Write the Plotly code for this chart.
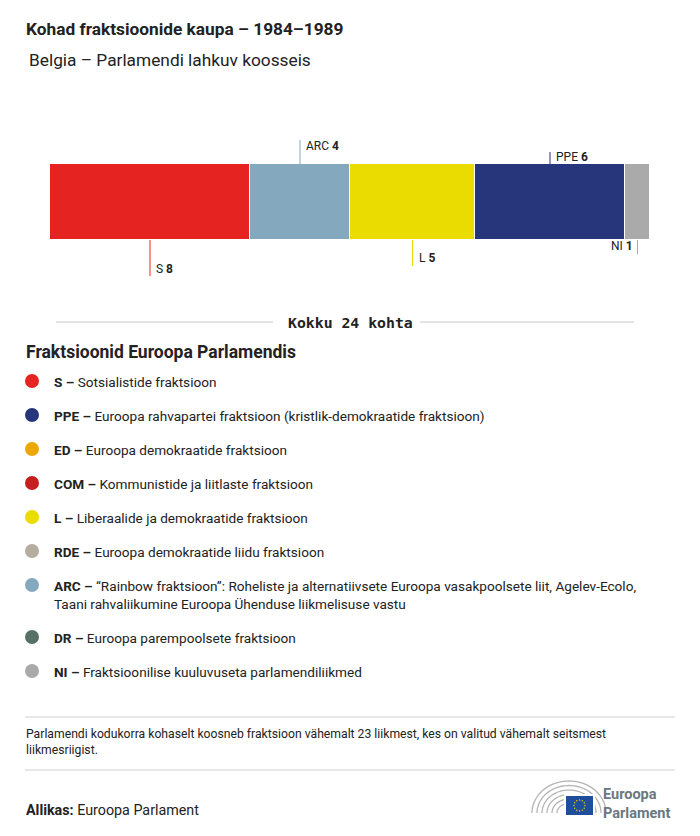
import math
import plotly.graph_objects as go

# page body has an 8px margin: figure is sized to fit the 700x836 window exactly
PAGE_W, PAGE_H, OFF = 700, 836, 8
W, H = PAGE_W - 2 * OFF, PAGE_H - 2 * OFF

# ---------------- data ----------------
groups = ["S", "ARC", "L", "PPE", "NI"]
seats = [8, 4, 5, 6, 1]
group_colors = ["#E52421", "#84A9BE", "#EBDC00", "#27367B", "#AAAAAA"]

legend_codes = ["S", "PPE", "ED", "COM", "L", "RDE", "ARC", "DR", "NI"]
legend_names = [
    "Sotsialistide fraktsioon",
    "Euroopa rahvapartei fraktsioon (kristlik-demokraatide fraktsioon)",
    "Euroopa demokraatide fraktsioon",
    "Kommunistide ja liitlaste fraktsioon",
    "Liberaalide ja demokraatide fraktsioon",
    "Euroopa demokraatide liidu fraktsioon",
    "“Rainbow fraktsioon”: Roheliste ja alternatiivsete Euroopa vasakpoolsete liit, Agelev-Ecolo,<br>Taani rahvaliikumine Euroopa Ühenduse liikmelisuse vastu",
    "Euroopa parempoolsete fraktsioon",
    "Fraktsioonilise kuuluvuseta parlamendiliikmed",
]
legend_colors = ["#E52421", "#27367B", "#EBA800", "#C41E1E", "#EBDC00",
                 "#B5AE9F", "#84A9BE", "#587166", "#AAAAAA"]

title = "Kohad fraktsioonide kaupa – 1984–1989"
subtitle = "Belgia – Parlamendi lahkuv koosseis"
total_label = "Kokku {} kohta".format(sum(seats))
legend_title = "Fraktsioonid Euroopa Parlamendis"
footnote = ("Parlamendi kodukorra kohaselt koosneb fraktsioon vähemalt 23 liikmest, kes on valitud vähemalt seitsmest<br>"
            "liikmesriigist.")
source = "<b>Allikas:</b> Euroopa Parlament"
logo_text = "<b>Euroopa<br>Parlament</b>"

# ---------------- styling / layout helpers ----------------
FONT = "Roboto"
DARK = "#222222"


def px(x):
    return (x - OFF) / W


def py(y):
    return 1 - (y - OFF) / H


# label placement per bar segment: (side, line length, text offset)
label_style = {
    "S": ("below", 36, 29),
    "ARC": ("above", 24, 18),
    "L": ("below", 26, 18),
    "PPE": ("above", 12, 7),
    "NI": ("below", 14, 6),
}

BAR_TOP, BAR_BOT = 164, 240
X0, X1 = 50, 650

fig = go.Figure()
for g, s, c in zip(groups, seats, group_colors):
    fig.add_trace(go.Bar(
        y=["seats"], x=[s], orientation="h", name=g,
        marker=dict(color=c, line=dict(color="white", width=1)),
        width=1, showlegend=False, hoverinfo="x+name",
    ))

total = sum(seats)
shapes = []
annotations = []

# bar labels with leader lines
cum = 0
for g, s, c in zip(groups, seats, group_colors):
    mid = cum + s / 2
    cum += s
    side, length, toff = label_style[g]
    if side == "below":
        y0p, y1p = BAR_BOT, BAR_BOT + length
        ty = BAR_BOT + toff
    else:
        y0p, y1p = BAR_TOP - length, BAR_TOP
        ty = BAR_TOP - toff
    shapes.append(dict(type="line", xref="x", yref="paper", x0=mid, x1=mid,
                       y0=py(y0p), y1=py(y1p), line=dict(color=c, width=1)))
    right = (g == groups[-1])
    annotations.append(dict(
        xref="x", yref="paper", x=mid, y=py(ty),
        text="{} <b>{}</b>".format(g, s), showarrow=False,
        xanchor="right" if right else "left", yanchor="middle",
        xshift=-3 if right else 4,
        font=dict(family=FONT, size=12, color=DARK),
    ))

# title / subtitle
annotations.append(dict(xref="paper", yref="paper", x=px(24), y=py(29), text="<b>" + title + "</b>",
                        showarrow=False, xanchor="left", yanchor="middle",
                        font=dict(family=FONT, size=17.3, color=DARK)))
annotations.append(dict(xref="paper", yref="paper", x=px(27), y=py(60), text=subtitle,
                        showarrow=False, xanchor="left", yanchor="middle",
                        font=dict(family=FONT, size=17.3, color=DARK)))

# total line
annotations.append(dict(xref="paper", yref="paper", x=px(350), y=py(322), text="<b>" + total_label + "</b>",
                        showarrow=False, xanchor="center", yanchor="middle",
                        font=dict(family="DejaVu Sans Mono", size=14.8, color=DARK)))
for a, b in [(56, 273), (420, 634)]:
    shapes.append(dict(type="line", xref="paper", yref="paper", x0=px(a), x1=px(b),
                       y0=py(322), y1=py(322), line=dict(color="#C8C8C8", width=1)))

# legend
annotations.append(dict(xref="paper", yref="paper", x=px(24), y=py(352), text="<b>" + legend_title + "</b>",
                        showarrow=False, xanchor="left", yanchor="middle",
                        font=dict(family=FONT, size=17.5, color=DARK)))
ly = 381
for code, name, col in zip(legend_codes, legend_names, legend_colors):
    r = 7
    shapes.append(dict(type="circle", xref="paper", yref="paper",
                       x0=px(32 - r), x1=px(32 + r), y0=py(ly + r), y1=py(ly - r),
                       fillcolor=col, line=dict(width=0)))
    nlines = name.count("<br>") + 1
    annotations.append(dict(xref="paper", yref="paper", x=px(52), y=py(ly - 9), text="<b>" + code + " –</b> " + name,
                            showarrow=False, xanchor="left", yanchor="top", align="left",
                            font=dict(family=FONT, size=13.6, color=DARK)))
    ly += 34 + (nlines - 1) * 18

# footnote
for yy in (717, 770):
    shapes.append(dict(type="line", xref="paper", yref="paper", x0=px(25), x1=px(675),
                       y0=py(yy), y1=py(yy), line=dict(color="#D0D0D0", width=1)))
annotations.append(dict(xref="paper", yref="paper", x=px(24), y=py(742), text=footnote,
                        showarrow=False, xanchor="left", yanchor="middle", align="left",
                        font=dict(family=FONT, size=12.2, color=DARK)))
annotations.append(dict(xref="paper", yref="paper", x=px(24), y=py(810), text=source,
                        showarrow=False, xanchor="left", yanchor="middle",
                        font=dict(family=FONT, size=14.3, color=DARK)))

# logo (hemicycle arcs + flag + wordmark)
cx, cy = 569, 813
for rx, ry in [(37, 32), (32, 27.5), (27, 23), (22, 18.5), (17, 14), (12, 9.5)]:
    pts = []
    for k in range(0, 41):
        ang = math.pi * k / 40
        pts.append((cx - rx * math.cos(ang), cy - ry * math.sin(ang)))
    path = "M " + " L ".join("{:.4f},{:.4f}".format(px(x), py(y)) for x, y in pts)
    shapes.append(dict(type="path", xref="paper", yref="paper", path=path,
                       line=dict(color="#B5B5B5", width=1.3)))
shapes.append(dict(type="rect", xref="paper", yref="paper", x0=px(565), x1=px(594),
                   y0=py(816), y1=py(795), fillcolor="#1F4E9A", line=dict(color="white", width=2)))
for k in range(12):
    ang = 2 * math.pi * k / 12
    sx, sy = 579.5 + 5.5 * math.cos(ang), 805.5 + 5.5 * math.sin(ang)
    shapes.append(dict(type="circle", xref="paper", yref="paper",
                       x0=px(sx - 0.7), x1=px(sx + 0.7), y0=py(sy + 0.7), y1=py(sy - 0.7),
                       fillcolor="#F2D600", line=dict(width=0)))
annotations.append(dict(xref="paper", yref="paper", x=px(601), y=py(804), text=logo_text,
                        showarrow=False, xanchor="left", yanchor="middle", align="left",
                        font=dict(family=FONT, size=14.5, color="#6B7780")))

fig.update_layout(
    width=W, height=H, barmode="stack", bargap=0,
    margin=dict(l=0, r=0, t=0, b=0),
    paper_bgcolor="white", plot_bgcolor="white",
    xaxis=dict(domain=[px(X0), px(X1)], range=[0, total], visible=False, fixedrange=True),
    yaxis=dict(domain=[py(BAR_BOT), py(BAR_TOP)], range=[-0.5, 0.5], visible=False, fixedrange=True),
    shapes=shapes, annotations=annotations, showlegend=False,
)

fig.write_html("out.html")
